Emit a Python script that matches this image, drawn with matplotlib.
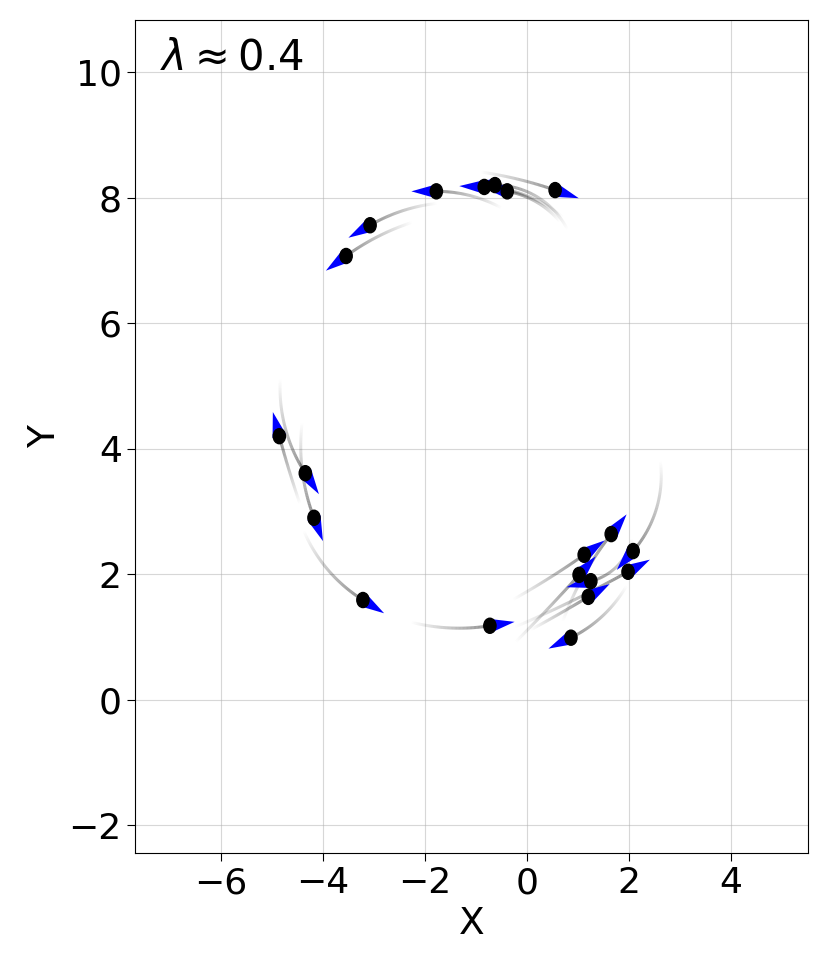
import numpy as np
import matplotlib
matplotlib.use("Agg")
import matplotlib.pyplot as plt
from matplotlib.collections import LineCollection
from matplotlib.patches import Ellipse

# particle positions
pos_x = [-3.55, -3.08, -1.78, -0.84, -0.63, -0.39, 0.55,
         -4.86, -4.35, -4.18, -3.22, -0.73,
         1.12, 1.65, 2.08, 1.98, 1.02, 1.25, 1.20, 0.86]
pos_y = [7.07, 7.56, 8.10, 8.17, 8.20, 8.10, 8.12,
         4.20, 3.61, 2.90, 1.59, 1.18,
         2.31, 2.64, 2.37, 2.04, 1.99, 1.89, 1.64, 0.99]
# heading of each particle (degrees, as seen on screen)
heading = [216, 210, 180, 178, 180, 170, -19,
           105, -57, -69, -32, 9,
           35, 52, 229, 29, 48, 194, 31, 206]
# oldest point of each trail
tail_x = [-2.24, -1.75, -0.49, 0.71, 0.80, 0.65, -0.92,
          -4.45, -4.84, -4.41, -4.39, -2.29,
          -0.29, 0.69, 2.61, -0.27, -0.24, 2.06, 0.06, 1.96]
tail_y = [7.61, 7.91, 7.83, 7.68, 7.48, 7.61, 8.41,
          3.11, 5.13, 4.43, 2.71, 1.24,
          1.59, 1.23, 3.82, 1.15, 0.91, 2.58, 1.11, 1.83]

lam = 0.4


def trail_arc(ax, p, t, ang, n=60):
    # circular arc (in screen space) ending at p with tangent ang, starting at t
    trans = ax.transData
    P = trans.transform(p)
    T = trans.transform(t)
    d = np.array([np.cos(np.radians(ang)), np.sin(np.radians(ang))])
    nrm = np.array([-d[1], d[0]])
    diff = P - T
    den = 2 * nrm.dot(diff)
    if abs(den) < 1e-6:
        pts = np.column_stack([np.linspace(T[0], P[0], n), np.linspace(T[1], P[1], n)])
        return trans.inverted().transform(pts)
    s = -diff.dot(diff) / den
    C = P + s * nrm
    aP = np.arctan2(P[1] - C[1], P[0] - C[0])
    aT = np.arctan2(T[1] - C[1], T[0] - C[0])
    if s > 0:
        aP = aT + (aP - aT) % (2 * np.pi)
    else:
        aP = aT - (aT - aP) % (2 * np.pi)
    a = np.linspace(aT, aP, n)
    pts = C + abs(s) * np.column_stack([np.cos(a), np.sin(a)])
    return trans.inverted().transform(pts)


fig = plt.figure(figsize=(8.3, 9.69), dpi=100)
ax = fig.add_subplot(111)
fig.subplots_adjust(left=0.1627, right=0.9735, top=0.9794, bottom=0.1197)
ax.set_xlim(-7.69, 5.51)
ax.set_ylim(-2.44, 10.83)

for i in range(len(pos_x)):
    pts = trail_arc(ax, (pos_x[i], pos_y[i]), (tail_x[i], tail_y[i]), heading[i])
    segs = np.stack([pts[:-1], pts[1:]], axis=1)
    alphas = np.linspace(0.0, 0.45, len(segs))
    cols = [(0, 0, 0, a) for a in alphas]
    ax.add_collection(LineCollection(segs, colors=cols, linewidths=2.2,
                                     capstyle='butt', zorder=2))

ax.quiver(pos_x, pos_y, np.ones(len(pos_x)), np.zeros(len(pos_x)), angles=heading,
          units='dots', width=1, headwidth=14, headlength=25, headaxislength=25,
          scale_units='dots', scale=1 / 25, pivot='tail', minshaft=0.5,
          color='#0000ff', zorder=3)

for i in range(len(pos_x)):
    ax.add_patch(Ellipse((pos_x[i], pos_y[i]), 0.24, 0.24, color='k', zorder=4))

ax.set_xticks([-6, -4, -2, 0, 2, 4])
ax.set_yticks([-2, 0, 2, 4, 6, 8, 10])
ax.tick_params(labelsize=26, length=6)
ax.grid(True, alpha=0.5)
ax.set_axisbelow(True)
ax.set_xlabel("X", fontsize=27)
ax.set_ylabel("Y", fontsize=27)
ax.text(0.037, 0.941, r"$\lambda \approx %.1f$" % lam, transform=ax.transAxes,
        fontsize=30, va='baseline', ha='left')

fig.savefig("out.png", dpi=100)
